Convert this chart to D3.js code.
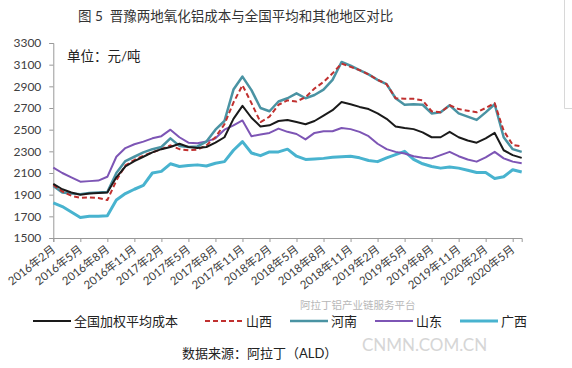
<!DOCTYPE html>
<html>
<head>
<meta charset="utf-8">
<script src="https://cdn.jsdelivr.net/npm/d3@7"></script>
<style>
  body { margin: 0; background: #fff; }
  text { font-family: Lato, "Noto Sans CJK SC", sans-serif; }
</style>
</head>
<body>
<div id="body"></div>
<script>
// months 2016-02 .. 2020-06
var months = [];
for (var k = 0; k < 53; k++) {
  var yy = 2016 + Math.floor((1 + k) / 12), mm = (1 + k) % 12 + 1;
  months.push(yy + "年" + mm + "月");
}

var national = [2000,1950,1920,1900,1910,1915,1920,2060,2160,2210,2250,2290,2320,2340,2370,2340,2330,2340,2380,2430,
  2600,2720,2610,2530,2540,2580,2590,2570,2550,2580,2630,2680,2755,2735,2710,2690,2650,2600,2530,2515,
  2505,2475,2430,2430,2480,2430,2400,2380,2420,2470,2310,2265,2240];
var shanxi = [1990,1930,1890,1870,1875,1870,1850,2030,2170,2220,2260,2290,2320,2355,2320,2310,2315,2355,2430,2550,
  2750,2910,2745,2570,2620,2730,2770,2760,2800,2880,2940,3020,3110,3080,3050,3010,2960,2920,2790,2785,
  2785,2770,2670,2660,2725,2690,2675,2660,2700,2745,2490,2360,2345];
var henan = [1980,1920,1910,1905,1915,1920,1925,2100,2210,2250,2290,2320,2340,2420,2350,2340,2345,2390,2500,2580,
  2870,2990,2865,2700,2670,2760,2790,2835,2790,2820,2870,2960,3125,3090,3050,3010,2960,2920,2790,2730,
  2735,2730,2650,2660,2725,2650,2620,2590,2660,2735,2430,2320,2295];
var shandong = [2150,2100,2060,2020,2025,2030,2065,2250,2330,2365,2390,2420,2440,2500,2430,2380,2375,2390,2420,2500,
  2540,2585,2440,2455,2470,2510,2480,2460,2410,2470,2485,2485,2515,2505,2480,2440,2370,2320,2295,2280,
  2255,2240,2235,2265,2295,2255,2225,2205,2245,2295,2235,2205,2190];
var guangxi = [1825,1790,1740,1690,1700,1700,1705,1850,1910,1950,1985,2100,2115,2185,2160,2170,2175,2165,2190,2205,
  2310,2390,2285,2260,2295,2295,2320,2255,2225,2230,2235,2245,2250,2255,2240,2215,2205,2240,2270,2300,
  2225,2185,2160,2145,2155,2145,2125,2105,2105,2050,2065,2130,2110];

var yTicks = [1500,1700,1900,2100,2300,2500,2700,2900,3100,3300];
var xTickLabels = months.filter(function(d, i) { return i % 3 === 0; });

var series = [
  {name: "全国加权平均成本", values: national, color: "#1a1a1a", width: 2, dash: null},
  {name: "山西", values: shanxi, color: "#c0302f", width: 2, dash: "5,3"},
  {name: "河南", values: henan, color: "#4a93a3", width: 2.5, dash: null},
  {name: "山东", values: shandong, color: "#7d55b5", width: 2, dash: null},
  {name: "广西", values: guangxi, color: "#48b3cf", width: 3, dash: null}
];
// draw order: bottom first
var drawOrder = [4, 3, 2, 1, 0];

var width = 572, height = 368;

var svg = d3.select("#body")
  .append("svg")
  .attr("width", width)
  .attr("height", height);

var x = d3.scalePoint().domain(months).range([53.3, 521.7]);
var y = d3.scaleLinear().domain([1500, 3300]).range([238, 43]);

// title
svg.append("text")
  .attr("x", 78).attr("y", 21)
  .attr("font-size", 13.5)
  .attr("fill", "#333")
  .style("white-space", "pre")
  .text("图 5  晋豫两地氧化铝成本与全国平均和其他地区对比");

// faint frame edge on the right
svg.append("path")
  .attr("d", "M564.5,0V108.5H572")
  .attr("fill", "none")
  .attr("stroke", "#d8d8d8");

var leftAxis = d3.axisLeft(y).tickValues(yTicks).tickSize(4).tickPadding(8).tickFormat(d3.format("d"));
var gy = svg.append("g")
  .attr("transform", "translate(53.3,0)")
  .call(leftAxis);
gy.select(".domain").attr("stroke", "#999");
gy.selectAll(".tick line").attr("stroke", "#999");
gy.selectAll(".tick text").attr("font-size", 12).attr("fill", "#404040");

var bottomAxis = d3.axisBottom(x)
  .tickValues(xTickLabels)
  .tickSize(4)
  .tickFormat("");
var gx = svg.append("g")
  .attr("transform", "translate(0,238)")
  .call(bottomAxis);
gx.select(".domain").attr("stroke", "#999");
gx.selectAll(".tick line").attr("stroke", "#999");

svg.append("g").selectAll("text")
  .data(xTickLabels)
  .enter().append("text")
  .attr("transform", function(d) { return "translate(" + (x(d) + 3) + ",251) rotate(-38)"; })
  .attr("text-anchor", "end")
  .attr("font-size", 11.5)
  .attr("fill", "#404040")
  .text(function(d) { return d; });

svg.append("text")
  .attr("x", 67).attr("y", 61)
  .attr("font-size", 13.5)
  .attr("fill", "#222")
  .text("单位：元/吨");

var line = d3.line()
  .x(function(d, i) { return x(months[i]); })
  .y(function(d) { return y(d); });

drawOrder.forEach(function(k) {
  var s = series[k];
  svg.append("path")
    .datum(s.values)
    .attr("d", line)
    .attr("fill", "none")
    .attr("stroke", s.color)
    .attr("stroke-width", s.width)
    .attr("stroke-linejoin", "round")
    .attr("stroke-dasharray", s.dash);
});

// watermark (kept clear of the legend texts)
svg.append("text")
  .attr("x", 300).attr("y", 309)
  .attr("font-size", 10.5)
  .attr("fill", "#999").attr("opacity", 0.7)
  .text("阿拉丁铝产业链服务平台");
svg.append("text")
  .attr("x", 362).attr("y", 351)
  .attr("font-size", 17)
  .attr("fill", "#ccc").attr("opacity", 0.8)
  .attr("font-family", "'Liberation Sans', sans-serif")
  .text("CNMN.COM.CN");

// legend
var legendPos = [33, 205, 290, 375, 460];
var legend = svg.append("g").selectAll("g")
  .data(series)
  .enter().append("g")
  .attr("transform", function(d, i) { return "translate(" + legendPos[i] + ",321)"; });
legend.append("line")
  .attr("x1", 0).attr("x2", 38)
  .attr("stroke", function(d) { return d.color; })
  .attr("stroke-width", function(d) { return d.width; })
  .attr("stroke-dasharray", function(d) { return d.dash; });
legend.append("text")
  .attr("x", 41).attr("y", 5)
  .attr("font-size", 13)
  .attr("fill", "#222")
  .text(function(d) { return d.name; });

svg.append("text")
  .attr("x", 182).attr("y", 358)
  .attr("font-size", 13)
  .attr("fill", "#222")
  .text("数据来源：阿拉丁（ALD）");
</script>
</body>
</html>
